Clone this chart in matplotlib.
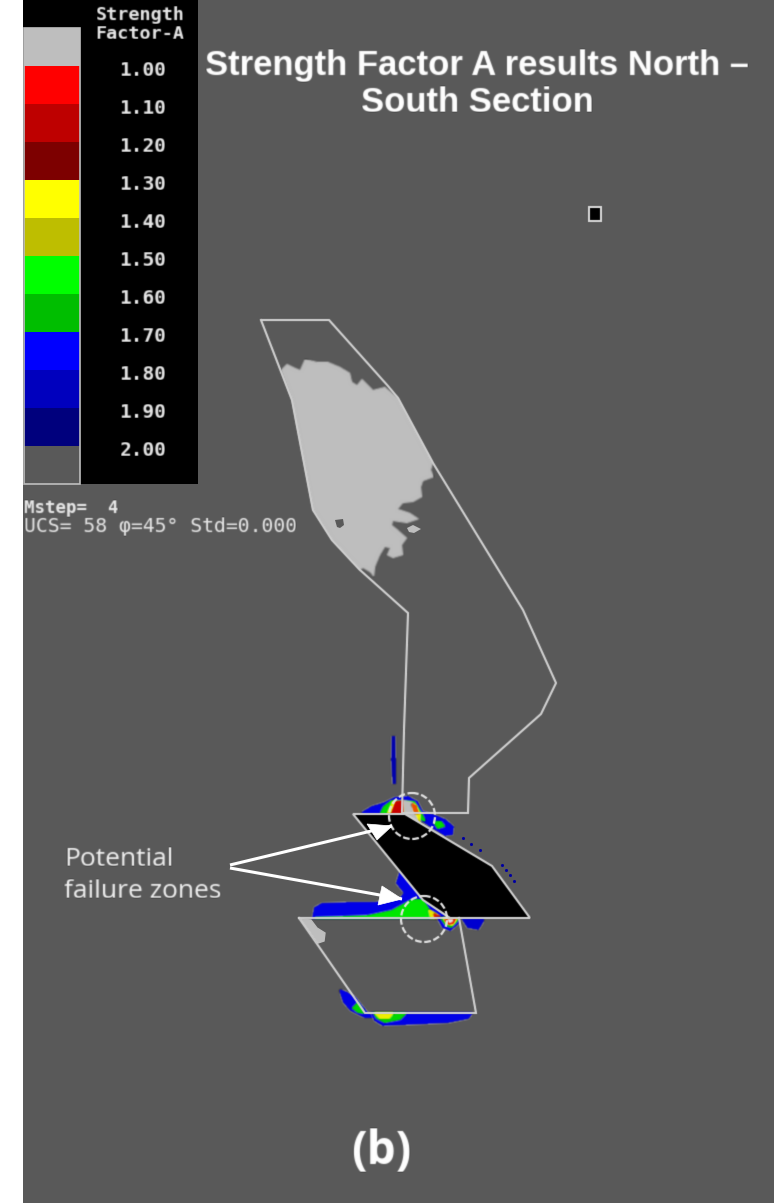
import numpy as np
import matplotlib
matplotlib.use('Agg')
import matplotlib.pyplot as plt
from matplotlib.patches import Polygon, Circle, Rectangle

# all shapes are in pixels of the reference picture
BG = '#595959'
LINE = '#d0d0d0'

legend_labels = ['1.00', '1.10', '1.20', '1.30', '1.40', '1.50', '1.60', '1.70', '1.80', '1.90', '2.00']
legend_colors = ['#bebebe', '#ff0000', '#be0000', '#7d0000', '#ffff00', '#bebe00',
                 '#00ff00', '#00be00', '#0000ff', '#0000be', '#00007d', BG]
legend_top = 28
legend_step = 38

upper_outline = [(261, 320), (329, 320), (388, 386), (398, 398), (433, 463), (523, 610), (556, 683),
                 (541, 714), (469, 778), (468, 813), (402, 813), (404, 730), (408, 613), (360, 570),
                 (332, 540), (313, 510), (292, 400), (261, 320)]
lower_outline = [(299, 918), (365, 1013), (476, 1013), (459, 918)]
black_block = [(353, 814), (405, 814), (492, 866), (530, 918), (450, 918), (423, 900)]
black_edge = [(450, 918), (423, 900), (353, 814), (405, 814), (492, 866), (530, 918), (299, 918)]

gray_blob = [(281, 370), (287, 364), (293, 367), (300, 370), (305, 359), (317, 362), (328, 362),
             (340, 367), (350, 373), (352, 382), (357, 385), (362, 379), (367, 384), (373, 390),
             (385, 387), (398, 398), (433, 463), (431, 470), (434, 477), (423, 481), (421, 487),
             (422, 497), (413, 502), (403, 503), (398, 509), (410, 513), (419, 519), (407, 523),
             (393, 521), (392, 525), (398, 530), (407, 538), (402, 545), (403, 555), (393, 558),
             (387, 555), (390, 548), (385, 547), (380, 555), (375, 567), (374, 577), (370, 572),
             (363, 568), (360, 570), (332, 540), (313, 510), (292, 400)]
gray_hole = [(335, 520), (343, 519), (344, 525), (340, 528), (337, 527)]
gray_spot = [(407, 528), (413, 525), (421, 529), (414, 533), (409, 532)]
gray_corner = [(301, 919), (311, 920), (317, 928), (325, 933), (324, 941), (318, 943), (305, 925)]

# failure zones: (colour, outline), painted from the outside in
zones = [
    ('#0000b0', [(392.5, 737), (394.5, 737), (395, 760), (395, 783), (393.5, 783), (392, 760)]),
    ('#0000e8', [(362, 813), (372, 807), (385, 803), (395, 798), (408, 797), (417, 802), (422, 812),
                 (433, 815), (445, 820), (453, 827), (452, 834), (445, 835), (432, 827), (413, 814)]),
    ('#00e000', [(381, 813), (384, 807), (392, 801), (414, 802), (421, 813), (425, 821), (416, 817), (406, 813)]),
    ('#00e000', [(434, 822), (441, 822), (444, 826), (438, 828)]),
    ('#f0f000', [(388, 813), (393, 802), (414, 804), (420, 814), (419, 825), (405, 814)]),
    ('#c80000', [(392, 813), (396, 802), (403, 801), (403, 813)]),
    ('#bebebe', [(404, 801), (412, 803), (414, 813), (418, 822), (405, 814)]),
    ('#e85000', [(412, 804), (416, 806), (418, 813), (415, 813)]),
    ('#0000e8', [(313, 918), (315, 908), (322, 904), (348, 903), (375, 903), (400, 899), (405, 893),
                 (397, 883), (400, 873), (410, 882), (423, 898), (433, 908), (447, 918)]),
    ('#00e800', [(315, 918), (345, 917), (368, 916), (392, 911), (412, 900), (423, 900), (430, 912), (438, 918)]),
    ('#e8e800', [(429, 910), (436, 914), (439, 918), (431, 918)]),
    ('#d82000', [(434, 914), (439, 916), (440, 918), (435, 918)]),
    ('#0000e8', [(438, 918), (443, 927), (450, 930), (458, 923), (459, 918)]),
    ('#00d000', [(441, 918), (446, 925), (451, 927), (457, 921), (458, 918)]),
    ('#f0f000', [(443, 918), (447, 923), (452, 925), (456, 920), (457, 918)]),
    ('#f02000', [(445, 920), (449, 924), (453, 923), (455, 919)]),
    ('#e8e8e8', [(448, 920), (450, 922), (453, 920)]),
    ('#0000d0', [(462, 918), (468, 927), (478, 929), (483, 921), (483, 918)]),
    ('#0000e8', [(340, 990), (347, 993), (355, 998), (367, 1013), (375, 1017), (365, 1017), (351, 1010), (344, 1002)]),
    ('#00d800', [(353, 1008), (358, 1003), (364, 1013), (358, 1012)]),
    ('#0000e8', [(372, 1013), (472, 1013), (468, 1018), (448, 1022), (405, 1024), (383, 1025), (375, 1020)]),
    ('#00d800', [(374, 1013), (406, 1013), (400, 1019), (385, 1022), (377, 1018)]),
    ('#f0f000', [(375, 1013), (393, 1013), (389, 1018), (380, 1018)]),
]
spots_x = [463, 471, 480, 502, 506, 510, 514]
spots_y = [838, 844, 850, 865, 870, 875, 881]

circle_centers = [(412, 816), (424, 919)]
circle_radius = 23

arrow_tails = [(230, 865), (230, 868)]
arrow_tips = [(392, 826), (402, 899)]
arrow_bases = [[(367, 824), (377, 840)], [(382, 886), (378, 905)]]


def blur(sigma):
    # soft edges like the upscaled screenshot
    size = int(sigma * 3) + 1
    kernel = np.exp(-0.5 * (np.arange(-size, size + 1) / sigma) ** 2)
    kernel = kernel / kernel.sum()

    def filt(image, dpi):
        pad = size + 1
        out = np.pad(image, ((pad, pad), (pad, pad), (0, 0)))
        for c in range(out.shape[2]):
            out[:, :, c] = np.apply_along_axis(np.convolve, 0, out[:, :, c], kernel, mode='same')
            out[:, :, c] = np.apply_along_axis(np.convolve, 1, out[:, :, c], kernel, mode='same')
        return out, -pad, -pad
    return filt


fig = plt.figure(figsize=(7.74, 12.03), dpi=100, facecolor='white')
ax = fig.add_axes([0, 0, 1, 1])
ax.set_xlim(0, 774)
ax.set_ylim(1203, 0)
ax.axis('off')

ax.add_patch(Rectangle((23, 0), 751, 1203, fc=BG, ec='none', zorder=0))

# legend
ax.add_patch(Rectangle((23, 0), 175, 484, fc='black', ec='none', zorder=1))
for i, col in enumerate(legend_colors):
    ax.add_patch(Rectangle((24, legend_top + i * legend_step), 56, legend_step, fc=col, ec='none', zorder=2))
ax.add_patch(Rectangle((24, legend_top), 56, 12 * legend_step, fc='none', ec='#bebebe', lw=1.2, zorder=3))

mono = {'family': 'DejaVu Sans Mono', 'color': '#e8e8e8', 'zorder': 5}
t = [ax.text(140, 15, 'Strength', ha='center', va='center', fontsize=13.2, fontweight='bold', **mono),
     ax.text(140, 34, 'Factor-A', ha='center', va='center', fontsize=13.2, fontweight='bold', **mono)]
for i, lab in enumerate(legend_labels):
    t.append(ax.text(143, 71 + i * 38, lab, ha='center', va='center', fontsize=14, fontweight='bold', **mono))
t.append(ax.text(24, 508, 'Mstep=  4', ha='left', va='center', fontsize=12.5, fontweight='bold', **mono))
t.append(ax.text(24, 526, 'UCS= 58 \u03c6=45\u00b0 Std=0.000', ha='left', va='center', fontsize=14.2, **mono))

# rock mass
soft = blur(0.8)
ax.add_patch(Polygon(gray_blob, fc='#bebebe', ec='none', zorder=2, agg_filter=soft))
ax.add_patch(Polygon(gray_hole, fc=BG, ec='none', zorder=2.1))
ax.add_patch(Polygon(gray_spot, fc='#bebebe', ec='none', zorder=2.1))
ax.add_patch(Polygon(gray_corner, fc='#bebebe', ec='#bebebe', lw=1, zorder=2))
for i, (col, pts) in enumerate(zones):
    ax.add_patch(Polygon(pts, fc=col, ec=col, lw=1.5, zorder=2 + i * 0.01, agg_filter=soft))
ax.scatter(spots_x, spots_y, s=5, c='#0000a0', marker='o', linewidths=0, zorder=2)

# black block and outlines
ax.add_patch(Polygon(black_block, fc='black', ec='none', zorder=3))
for pts in [upper_outline, lower_outline, black_edge]:
    xs, ys = zip(*pts)
    ax.plot(xs, ys, color=LINE, lw=1.5, zorder=3.5, solid_joinstyle='miter', agg_filter=blur(0.5))

for c in circle_centers:
    ax.add_patch(Circle(c, circle_radius, fc='none', ec='#e0e0e0', lw=1.6, ls=(0, (3, 1.2)), zorder=4, agg_filter=blur(0.5)))

# ore marker
ax.add_patch(Rectangle((589, 207), 12, 14, fc='black', ec='#d8d8d8', lw=1.5, zorder=3, agg_filter=blur(0.5)))

# annotations
for tail, tip, base in zip(arrow_tails, arrow_tips, arrow_bases):
    ax.plot([tail[0], tip[0]], [tail[1], tip[1]], color='white', lw=2.2, zorder=6, solid_capstyle='butt')
    ax.add_patch(Polygon([tip, base[0], base[1]], fc='white', ec='white', lw=0.5, zorder=6))

t.append(ax.text(477, 65, 'Strength Factor A results North \u2013', ha='center', va='center', family='Liberation Sans',
                 fontweight='bold', fontsize=24.9, color='white', zorder=7))
t.append(ax.text(477, 102, 'South Section', ha='center', va='center', family='Liberation Sans',
                 fontweight='bold', fontsize=24.9, color='white', zorder=7))
t.append(ax.text(64, 859, 'Potential', ha='left', va='center', family='Open Sans', fontsize=19, color='#f0f0f0', zorder=7))
t.append(ax.text(64, 891, 'failure zones', ha='left', va='center', family='Open Sans', fontsize=19, color='#f0f0f0', zorder=7))
t.append(ax.text(381, 1151, '(b)', ha='center', va='center', family='Open Sans', fontweight='bold', fontsize=33,
                 color='white', zorder=7))
for x in t:
    x.set_agg_filter(blur(0.6))

fig.savefig('out.png', dpi=100, facecolor='white')
